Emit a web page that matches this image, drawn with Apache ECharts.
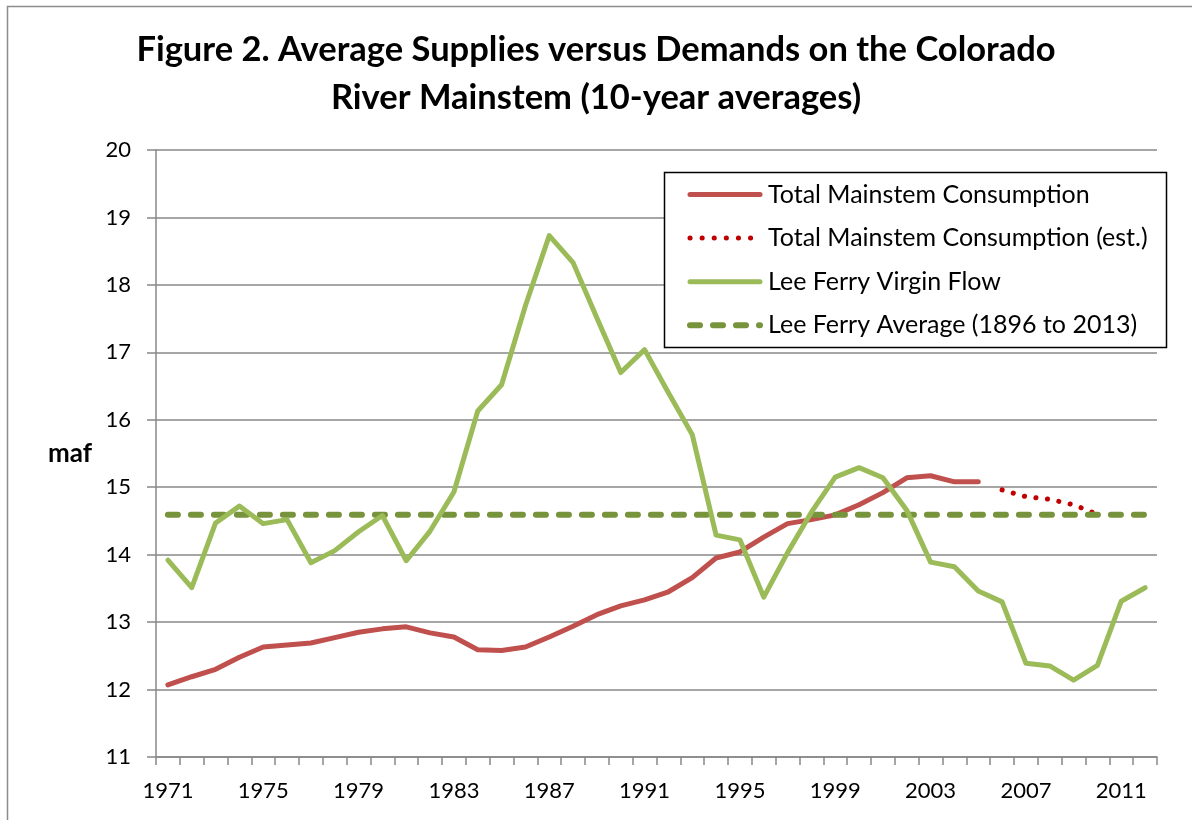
<!DOCTYPE html>
<html>
<head>
<meta charset="utf-8">
<title>Figure 2</title>
<script src="https://cdn.jsdelivr.net/npm/echarts@6/dist/echarts.min.js"></script>
<style>
  html, body { margin: 0; padding: 0; background: #fff; }
  #chart { width: 1192px; height: 820px; }
</style>
</head>
<body>
<div id="chart"></div>
<script>
// years 1971..2012
var years = [];
for (var y = 1971; y <= 2012; y++) years.push(String(y));

// Total Mainstem Consumption (1971-2005)
var consumption = [12.07, 12.19, 12.30, 12.48, 12.63, 12.66, 12.69, 12.77, 12.85, 12.90,
    12.93, 12.84, 12.78, 12.59, 12.58, 12.63, 12.78, 12.94, 13.11, 13.24,
    13.33, 13.45, 13.66, 13.95, 14.04, 14.26, 14.46, 14.52, 14.59, 14.74,
    14.92, 15.14, 15.17, 15.08, 15.08, null, null, null, null, null,
    null, null];

// Total Mainstem Consumption (est.) (2006-2010)
var consumptionEst = [null, null, null, null, null, null, null, null, null, null,
    null, null, null, null, null, null, null, null, null, null,
    null, null, null, null, null, null, null, null, null, null,
    null, null, null, null, null, 14.96, 14.86, 14.82, 14.74, 14.60,
    null, null];

// Lee Ferry Virgin Flow
var virginFlow = [13.92, 13.51, 14.47, 14.72, 14.46, 14.52, 13.88, 14.06, 14.34, 14.58,
    13.91, 14.35, 14.93, 16.13, 16.52, 17.69, 18.73, 18.33, 17.51, 16.70,
    17.04, 16.40, 15.78, 14.29, 14.22, 13.37, 14.03, 14.63, 15.15, 15.29,
    15.14, 14.66, 13.89, 13.82, 13.46, 13.30, 12.39, 12.35, 12.14, 12.36,
    13.31, 13.51];

// Lee Ferry Average (1896 to 2013)
var leeAvgValue = 14.59;
var leeAverage = years.map(function () { return leeAvgValue; });

var fontName = 'Lato';

var dom = document.getElementById('chart');
var myChart = echarts.init(dom);

var option = {
    animation: false,
    backgroundColor: '#fff',
    title: {
        text: 'Figure 2. Average Supplies versus Demands on the Colorado\nRiver Mainstem (10-year averages)',
        left: 'center',
        top: 26,
        padding: [0, 0, 0, 12],
        textStyle: {
            fontFamily: fontName,
            fontWeight: 'bold',
            fontSize: 34.5,
            lineHeight: 48,
            color: '#000'
        }
    },
    graphic: [{
        type: 'rect',
        silent: true,
        shape: { x: 7.5, y: 6.5, width: 1300, height: 1000 },
        style: { fill: null, stroke: '#8c8c8c', lineWidth: 1.5 }
    }, {
        type: 'rect',
        silent: true,
        z: 10,
        shape: { x: 664.5, y: 172.5, width: 502, height: 175 },
        style: { fill: '#fff', stroke: '#000', lineWidth: 1.5 }
    }],
    legend: {
        orient: 'vertical',
        left: 682,
        top: 177,
        itemWidth: 70,
        itemHeight: 24,
        itemGap: 18.6,
        z: 11,
        itemStyle: { opacity: 0 },
        textStyle: { fontFamily: fontName, fontSize: 25, color: '#000', padding: [0, 0, 0, 3] },
        data: [
            { name: 'Total Mainstem Consumption', lineStyle: { width: 5, color: '#C0504D', cap: 'round' } },
            { name: 'Total Mainstem Consumption (est.)', lineStyle: { width: 5, color: '#C00000', type: [0.1, 12], cap: 'round' } },
            { name: 'Lee Ferry Virgin Flow', lineStyle: { width: 5, color: '#9BBB59', cap: 'round' } },
            { name: 'Lee Ferry Average (1896 to 2013)', lineStyle: { width: 6, color: '#77933C', type: [10, 13], cap: 'round' } }
        ]
    },
    grid: {
        left: 156,
        right: 35,
        top: 150,
        bottom: 63,
        containLabel: false
    },
    xAxis: {
        type: 'category',
        data: years,
        boundaryGap: true,
        axisLine: { lineStyle: { color: '#888', width: 1.5 } },
        axisTick: { show: true, interval: 0, length: 8, lineStyle: { color: '#888', width: 1.5 } },
        axisLabel: {
            interval: 3,
            margin: 23,
            fontFamily: fontName,
            fontSize: 22,
            color: '#000'
        },
        splitLine: { show: false }
    },
    yAxis: {
        type: 'value',
        min: 11,
        max: 20,
        interval: 1,
        name: 'maf',
        nameLocation: 'middle',
        nameRotate: 0,
        nameGap: 64,
        nameTextStyle: { fontFamily: fontName, fontSize: 26, fontWeight: 'bold', color: '#000', align: 'right' },
        axisLine: { show: true, lineStyle: { color: '#888', width: 1.5 } },
        axisTick: { show: true, length: 9, lineStyle: { color: '#888', width: 1.5 } },
        axisLabel: {
            margin: 25,
            fontFamily: fontName,
            fontSize: 22,
            color: '#000'
        },
        splitLine: { show: true, lineStyle: { color: '#888', width: 1.5 } }
    },
    series: [{
        name: 'Total Mainstem Consumption',
        type: 'line',
        data: consumption,
        showSymbol: false,
        symbol: 'none',
        z: 3,
        lineStyle: { color: '#C0504D', width: 5, cap: 'round', join: 'round' },
        itemStyle: { color: '#C0504D' }
    }, {
        name: 'Total Mainstem Consumption (est.)',
        type: 'line',
        data: consumptionEst,
        showSymbol: false,
        symbol: 'none',
        z: 2,
        lineStyle: { color: '#C00000', width: 5, type: [0.1, 11.5], cap: 'round' },
        itemStyle: { color: '#C00000' }
    }, {
        name: 'Lee Ferry Virgin Flow',
        type: 'line',
        data: virginFlow,
        showSymbol: false,
        symbol: 'none',
        z: 4,
        lineStyle: { color: '#9BBB59', width: 5, cap: 'round', join: 'round' },
        itemStyle: { color: '#9BBB59' }
    }, {
        name: 'Lee Ferry Average (1896 to 2013)',
        type: 'line',
        data: leeAverage,
        showSymbol: false,
        symbol: 'none',
        z: 3,
        lineStyle: { color: '#77933C', width: 6, type: [10, 13], cap: 'round' },
        itemStyle: { color: '#77933C' }
    }]
};

myChart.setOption(option);
</script>
</body>
</html>
